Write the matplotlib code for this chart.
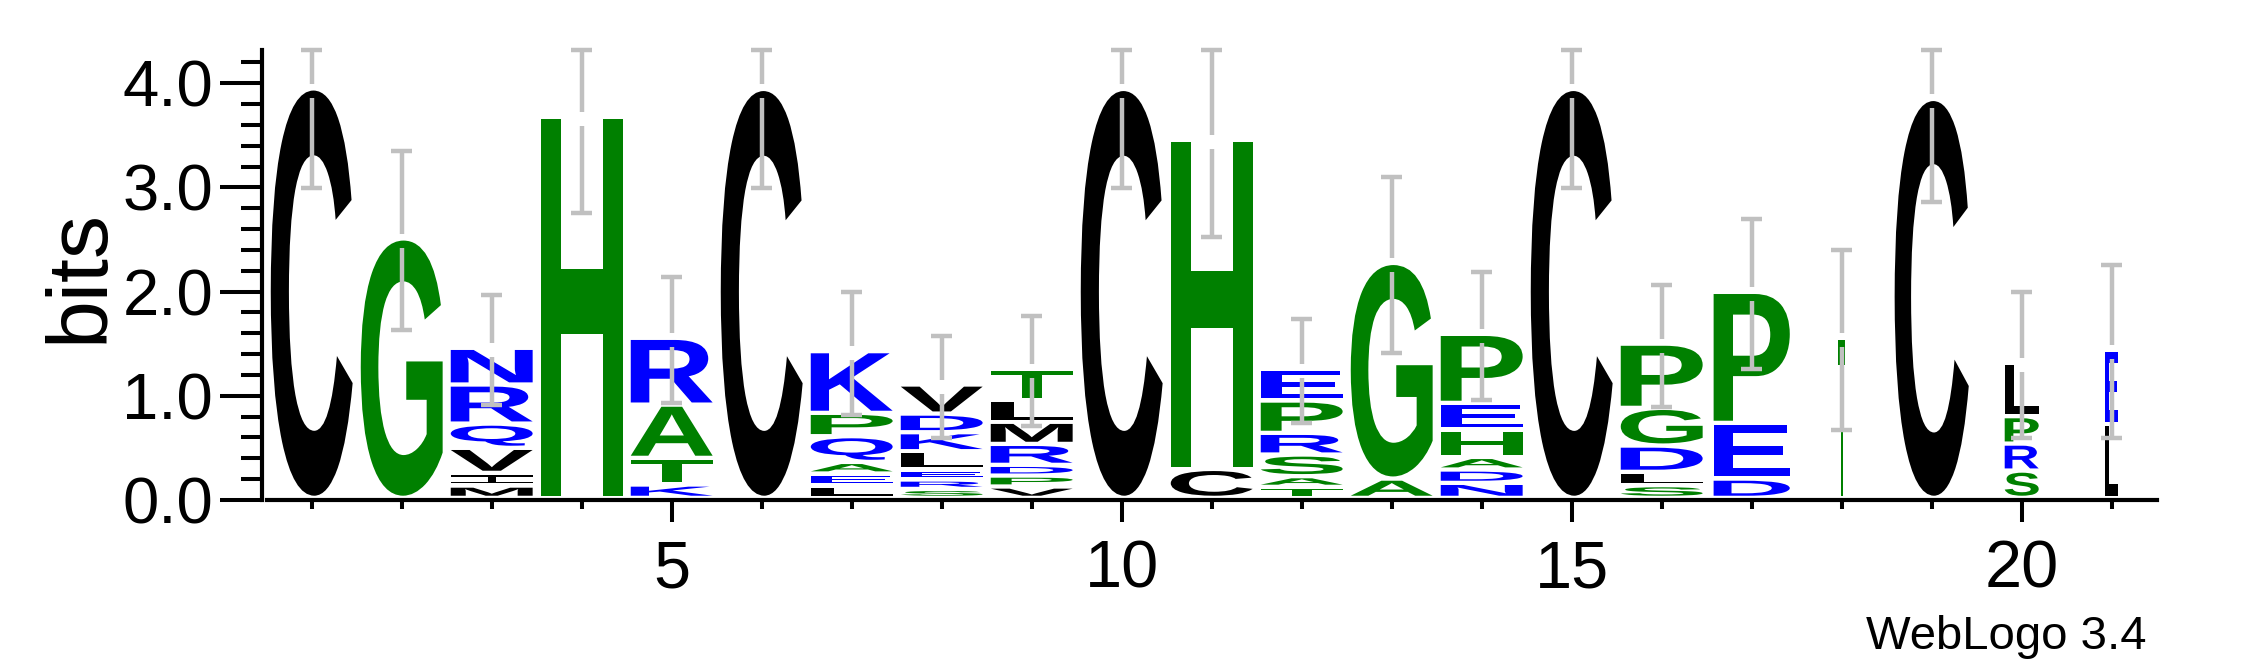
"""
Sequence logo (WebLogo style)
"""
import numpy as np
import matplotlib
matplotlib.use('Agg')
import matplotlib.pyplot as plt
from matplotlib.textpath import TextPath
from matplotlib.patches import PathPatch
from matplotlib.path import Path
from matplotlib.font_manager import FontProperties
from matplotlib.transforms import Affine2D

# Data: letters of each stack (bottom -> top) and their heights in bits
positions = np.arange(1, 22)
stack_letters = ['C', 'G', 'MIVQRN', 'H', 'KTAR', 'C', 'LEAQPK', 'SRELKDV', 'VPDRMLT',
                 'C', 'CH', 'TASRPE', 'AG', 'NDAHEP', 'C', 'SLDGP', 'DEP', 'T', 'C',
                 'SRPL', 'LE']
stack_heights = [
    [3.93],
    [2.49],
    [0.118, 0.122, 0.24, 0.233, 0.375, 0.352],
    [3.66],
    [0.128, 0.256, 0.511, 0.641],
    [3.925],
    [0.118, 0.116, 0.111, 0.247, 0.224, 0.592],
    [0.086, 0.09, 0.096, 0.176, 0.182, 0.179, 0.279],
    [0.109, 0.105, 0.103, 0.201, 0.212, 0.21, 0.298],
    [3.925],
    [0.278, 3.158],
    [0.106, 0.102, 0.208, 0.208, 0.31, 0.304],
    [0.185, 2.07],
    [0.144, 0.128, 0.121, 0.263, 0.256, 0.662],
    [3.925],
    [0.122, 0.128, 0.252, 0.362, 0.616],
    [0.185, 0.535, 1.257],
    [1.536],
    [3.829],
    [0.262, 0.259, 0.263, 0.512],
    [0.71, 0.713],
]
error_bits = [0.94, 0.86, 0.525, 0.91, 0.605, 0.935, 0.59, 0.49, 0.53, 0.935, 0.915,
              0.50, 0.845, 0.613, 0.935, 0.587, 0.72, 0.864, 0.966, 0.704, 0.83]
# fraction of non-gap sequences (stack width)
column_weight = [1.0] * 16 + [0.93, 0.085, 0.905, 0.415, 0.16]

ytick_values = [0, 1, 2, 3, 4]
xtick_values = [5, 10, 15, 20]

colors = {}
for aa in 'CVIML':
    colors[aa] = 'black'
for aa in 'GHATPS':
    colors[aa] = '#008000'
for aa in 'NRQKDE':
    colors[aa] = '#0000ff'

plt.rcParams['font.family'] = ['Liberation Sans', 'DejaVu Sans']

W, H = 2250, 667
fig = plt.figure(figsize=(W / 100, H / 100), dpi=100)
ax = fig.add_axes([266.7 / W, 167 / H, 1890 / W, 450.3 / H])
max_bits = np.log2(20)
ax.set_xlim(0.5, 21.5)
ax.set_ylim(0, max_bits)

glyph_font = FontProperties(family='Liberation Sans', weight='bold')
full_width = 0.91
gap = 0.041  # blank space under every glyph

# "I" drawn with bars top and bottom, as in the reference
i_path = Path([(0, 0), (1, 0), (1, 0.18), (0.55, 0.18), (0.55, 0.82), (1, 0.82), (1, 1),
               (0, 1), (0, 0.82), (0.45, 0.82), (0.45, 0.18), (0, 0.18), (0, 0)],
              closed=True)


def draw_letter(ch, x, y0, w, h):
    if ch == 'I':
        path = i_path
        bb = path.get_extents()
    else:
        path = TextPath((0, 0), ch, size=1, prop=glyph_font)
        bb = path.get_extents()
    tr = (Affine2D().translate(-bb.x0, -bb.y0)
          .scale(w / bb.width, (h - gap) / bb.height)
          .translate(x - w / 2, y0 + gap))
    ax.add_patch(PathPatch(tr.transform_path(path), facecolor=colors[ch],
                           edgecolor='none', lw=0, zorder=2))


eb_gap = 0.067
cap_half = 0.117
eb_kw = dict(color='#c0c0c0', lw=3.2, solid_capstyle='butt', zorder=5, clip_on=False)

for pos, letters, hts, err, wt in zip(positions, stack_letters, stack_heights,
                                      error_bits, column_weight):
    y = 0.0
    for ch, h in zip(letters, hts):
        draw_letter(ch, pos, y, full_width * wt, h)
        y += h
    lo = max(y - err, 0)
    hi = min(y + err, max_bits)
    ax.plot([pos, pos], [lo, y - eb_gap], **eb_kw)
    ax.plot([pos, pos], [y + eb_gap, hi], **eb_kw)
    ax.plot([pos - cap_half, pos + cap_half], [lo, lo], **eb_kw)
    ax.plot([pos - cap_half, pos + cap_half], [hi, hi], **eb_kw)

# axes styling
for side in ['top', 'right']:
    ax.spines[side].set_visible(False)
for side in ['left', 'bottom']:
    ax.spines[side].set_linewidth(3.0)
ax.spines['left'].set_position(('outward', 3.6))

ax.set_yticks(ytick_values)
ax.set_yticklabels([f'{v:.1f}' for v in ytick_values])
ax.set_yticks([v for v in np.arange(0.2, 4.3, 0.2) if abs(v - round(v)) > 1e-6], minor=True)
ax.tick_params(axis='y', which='major', length=30, width=2.9, labelsize=47, pad=5)
ax.tick_params(axis='y', which='minor', length=15, width=2.9)

ax.set_xticks(xtick_values)
ax.set_xticklabels([str(v) for v in xtick_values])
ax.set_xticks([p for p in positions if p not in xtick_values], minor=True)
ax.tick_params(axis='x', which='major', length=15.5, width=2.9, labelsize=48, pad=13)
ax.tick_params(axis='x', which='minor', length=6.8, width=2.9)

fig.text(80.5 / W, 1 - 275.5 / H, 'bits', rotation=90, ha='center', va='center',
         fontsize=62)
fig.text(2147 / W, 1 - 649.3 / H, 'WebLogo 3.4', ha='right', va='baseline', fontsize=34)

fig.savefig('out.png', dpi=100)
plt.close(fig)
